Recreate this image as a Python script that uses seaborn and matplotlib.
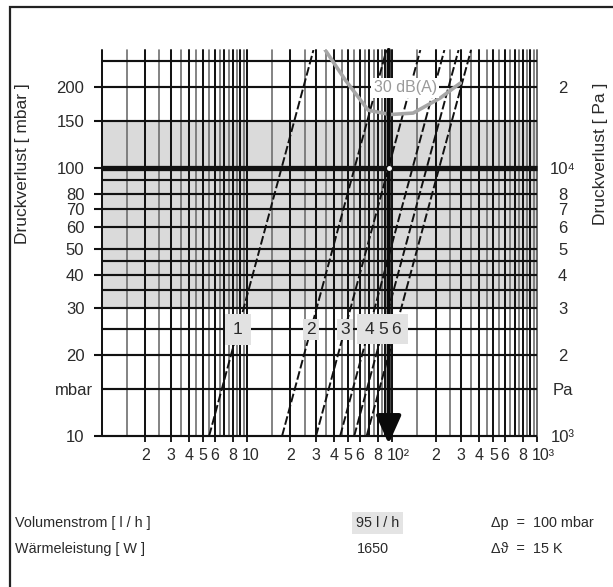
import numpy as np
import pandas as pd
import matplotlib
matplotlib.use("Agg")
import matplotlib.pyplot as plt
import seaborn as sns
from matplotlib.patches import Rectangle
from matplotlib.ticker import NullLocator
from matplotlib.transforms import ScaledTranslation

# ---------------- data ----------------
curve_names = ["1", "2", "3", "4", "5", "6"]
flow_at_10mbar = [5.5, 17.5, 30.0, 44.0, 55.0, 67.0]        # l/h where each line meets 10 mbar
flow_at_275mbar = [28.8, 91.7, 157.0, 230.0, 288.0, 351.0]  # l/h where each line meets the top
dp_ends = [10, 275]                                          # mbar
label_dp = 25                                                # mbar, row of the curve labels

db_flow = [34.7, 47.6, 68.7, 97.0, 140.0, 215.0, 296.0]     # 30 dB(A) limit curve
db_dp = [275, 213, 164, 158, 160, 182, 207]

op_flow = 95      # l/h  (operating point / arrow)
op_dp = 100       # mbar

x_tick_vals = [2, 3, 4, 5, 6, 8, 10, 20, 30, 40, 50, 60, 80, 100,
               200, 300, 400, 500, 600, 800, 1000]
x_tick_labels = ["2", "3", "4", "5", "6", "8", "10", "2", "3", "4", "5", "6", "8", "10²",
                 "2", "3", "4", "5", "6", "8", "10³"]
y_tick_vals = [10, 20, 30, 40, 50, 60, 70, 80, 100, 150, 200]
y_tick_labels = ["10", "20", "30", "40", "50", "60", "70", "80", "100", "150", "200"]
y_unit_val = [15]
y_unit_label = ["mbar"]
pa_tick_vals = [10, 15, 20, 30, 40, 50, 60, 70, 80, 100, 200]
pa_tick_labels = ["10³", "Pa", "2", "3", "4", "5", "6", "7", "8", "10⁴", "2"]
h_grid_vals = [10, 15, 20, 25, 30, 35, 40, 45, 50, 60, 70, 80, 90, 100, 150, 200, 250]

row1 = ["Volumenstrom [ l / h ]", "95 l / h", "Δp  =  100 mbar"]
row2 = ["Wärmeleistung [ W ]", "1650", "Δϑ  =  15 K"]

# ---------------- styling ----------------
sns.set_theme(style="white")
plt.rcParams["font.family"] = ["Liberation Sans", "DejaVu Sans"]
TXT = "#2a2a2a"

W, H = 613, 587
fig = plt.figure(figsize=(W / 100, H / 100), dpi=100)
fig.patch.set_facecolor("white")
x0, x1, ytop, ybot = 101.7, 537.0, 50.0, 436.0
ax = fig.add_axes([x0 / W, (H - ybot) / H, (x1 - x0) / W, (ybot - ytop) / H])
ax.set_xscale("log")
ax.set_yscale("log")
ax.set_xlim(1, 1000)
ax.set_ylim(dp_ends[0], dp_ends[1])
for s in ax.spines.values():
    s.set_visible(False)
ax.set_facecolor("white")

# shaded band
ax.axhspan(30, 150, color="#dadada", zorder=0, lw=0)

# vertical grid (1, 1.5, 2, ... per decade)
for dec in (1, 10, 100):
    for m in np.arange(1.0, 10.0, 0.5):
        v = m * dec
        if float(m).is_integer():
            ax.axvline(v, color="#141414", lw=1.45, zorder=1, clip_on=False)
        else:
            ax.axvline(v, color="#6e6e6e", lw=1.2, zorder=1, clip_on=False)
ax.axvline(1000, color="#6a6a6a", lw=1.4, zorder=1, clip_on=False)

# horizontal grid
for v in h_grid_vals:
    ax.plot([1, 1000], [v, v], color="#111111", lw=3.8 if v == 100 else 1.55,
            zorder=2, clip_on=False, solid_capstyle="butt")

# pressure-loss lines
rows = []
for name, fa, fb in zip(curve_names, flow_at_10mbar, flow_at_275mbar):
    rows.append({"curve": name, "flow": fa, "dp": dp_ends[0]})
    rows.append({"curve": name, "flow": fb, "dp": dp_ends[1]})
df = pd.DataFrame(rows)
sns.lineplot(data=df, x="flow", y="dp", hue="curve", style="curve",
             palette=["#111111"] * len(curve_names),
             dashes=[(4.5, 1.5)] * len(curve_names), lw=1.4,
             legend=False, ax=ax, zorder=4)

# 30 dB(A) limit curve
db_df = pd.DataFrame({"flow": db_flow, "dp": db_dp})
sns.lineplot(data=db_df, x="flow", y="dp", color="#a6a6a6", lw=2.6, sort=False,
             legend=False, ax=ax, zorder=5)

# operating point arrow
ax.annotate("", xy=(op_flow, 9.35), xytext=(op_flow, dp_ends[1]),
            arrowprops=dict(arrowstyle="-|>,head_length=0.85,head_width=0.38",
                            lw=3.0, color="#0a0a0a", mutation_scale=20,
                            shrinkA=0, shrinkB=0),
            annotation_clip=False, zorder=8)
ax.plot([op_flow], [op_dp], marker="o", ms=2.5, color="white", zorder=9, clip_on=False)

# curve labels on the 25 mbar line: boxes first, then all digits on top
t = (np.log10(label_dp) - np.log10(dp_ends[0])) / (np.log10(dp_ends[1]) - np.log10(dp_ends[0]))
for i, (name, fa, fb) in enumerate(zip(curve_names, flow_at_10mbar, flow_at_275mbar)):
    fx = 10 ** (np.log10(fa) + t * (np.log10(fb) - np.log10(fa)))
    pad = 0.45 if i == 0 else (0.42 if i >= 3 else 0.18)
    ax.text(fx, label_dp, name, color="none", fontsize=12.5, ha="center", va="center",
            zorder=10, bbox=dict(boxstyle=f"square,pad={pad}", fc="#e2e2e2", ec="none"))
for i, (name, fa, fb) in enumerate(zip(curve_names, flow_at_10mbar, flow_at_275mbar)):
    fx = 10 ** (np.log10(fa) + t * (np.log10(fb) - np.log10(fa)))
    ax.text(fx, label_dp, name, color=TXT, fontsize=12.5, ha="center", va="center",
            zorder=11)

ax.text(124, 199, "30 dB(A)", color="#9a9a9a", fontsize=11.5, ha="center", va="center",
        zorder=10, bbox=dict(boxstyle="square,pad=0.15", fc="white", ec="none"))

# ticks
ax.set_xticks(x_tick_vals)
ax.set_xticklabels(x_tick_labels)
ax.xaxis.set_minor_locator(NullLocator())
ax.tick_params(axis="x", which="major", length=4.5, width=1.4, color="#1c1c1c",
               pad=4, labelsize=11.5, labelcolor=TXT, bottom=True)
# decade labels (10, 10², 10³) start just left of their line, as in the reference
shift = ScaledTranslation(-5 / 100, 0, fig.dpi_scale_trans)
for lab in ax.get_xticklabels():
    if lab.get_text().startswith("10"):
        lab.set_horizontalalignment("left")
        lab.set_transform(lab.get_transform() + shift)

ax.set_yticks(y_tick_vals)
ax.set_yticklabels(y_tick_labels)
ax.set_yticks(y_unit_val, minor=True)
ax.set_yticklabels(y_unit_label, minor=True)
ax.tick_params(axis="y", which="major", length=6, width=1.5, color="#111111",
               pad=6.5, labelsize=12, labelcolor=TXT, left=True)
ax.tick_params(axis="y", which="minor", length=0, pad=6.5, labelsize=12,
               labelcolor=TXT, left=True)

ax2 = ax.twinx()
ax2.set_yscale("log")
ax2.set_ylim(ax.get_ylim())
for s in ax2.spines.values():
    s.set_visible(False)
ax2.set_yticks(pa_tick_vals)
ax2.set_yticklabels(pa_tick_labels)
ax2.yaxis.set_minor_locator(NullLocator())
ax2.tick_params(axis="y", length=0, pad=18.5, labelsize=12, labelcolor=TXT, right=True)
for lab in ax2.get_yticklabels():
    lab.set_horizontalalignment("center")

ax.set_xlabel("")
ax.set_ylabel("")
ax2.set_ylabel("")

# axis titles
fig.text(23 / W, 1 - 164 / H, "Druckverlust [ mbar ]", rotation=90, ha="center",
         va="center", fontsize=12.5, color=TXT)
fig.text(601 / W, 1 - 154 / H, "Druckverlust [ Pa ]", rotation=90, ha="center",
         va="center", fontsize=12.5, color=TXT)

# bottom table
fs = 10.4
fig.text(15 / W, 1 - 523 / H, row1[0], fontsize=fs, color=TXT, va="center")
fig.text(356 / W, 1 - 523 / H, row1[1], fontsize=fs, color=TXT, va="center",
         bbox=dict(boxstyle="square,pad=0.25", fc="#e4e4e4", ec="none"))
fig.text(491 / W, 1 - 523 / H, row1[2], fontsize=fs, color=TXT, va="center")
fig.text(15 / W, 1 - 549 / H, row2[0], fontsize=fs, color=TXT, va="center")
fig.text(357 / W, 1 - 549 / H, row2[1], fontsize=fs, color=TXT, va="center")
fig.text(491 / W, 1 - 549 / H, row2[2], fontsize=fs, color=TXT, va="center")

# outer frame (open to the right and bottom)
fig.add_artist(Rectangle((10 / W, -0.1), 1.2, 1 - 7 / H + 0.1, fill=False,
                         lw=1.6, edgecolor="#222222", transform=fig.transFigure))

fig.savefig("out.png", dpi=100, facecolor="white")
